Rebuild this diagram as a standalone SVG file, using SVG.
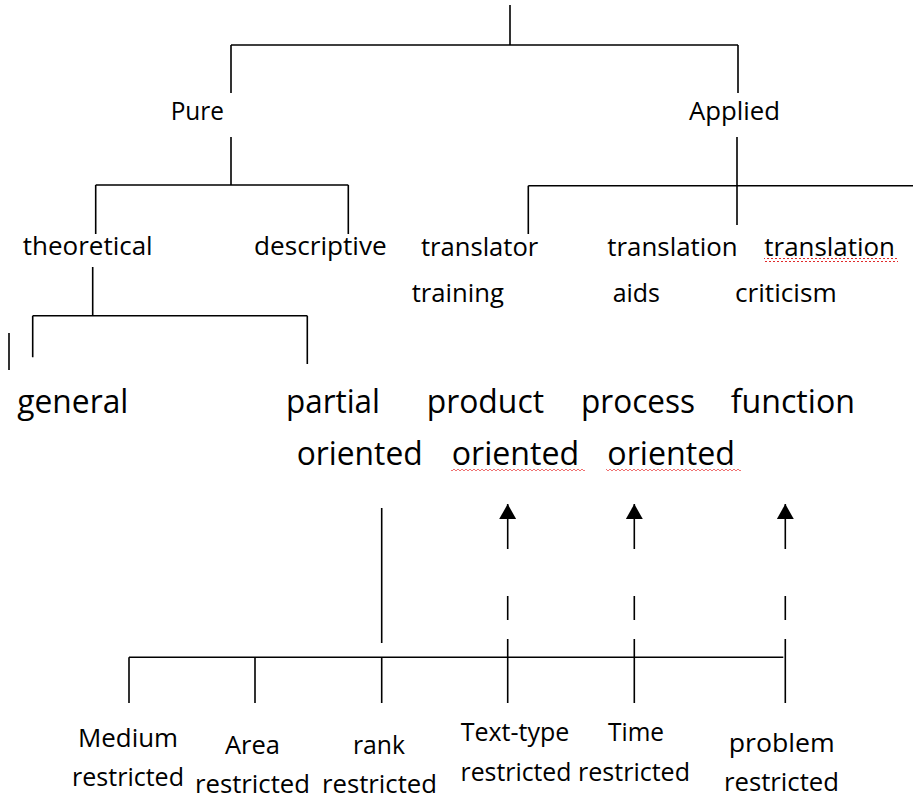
<svg xmlns="http://www.w3.org/2000/svg" width="913" height="799" viewBox="0 0 913 799">
<style>
  .ln { stroke: #000; stroke-width: 1.6; fill: none; }
  .t { font-family: "Open Sans", "Noto Sans", "Liberation Sans", sans-serif; fill: #000; }
  .m { font-size: 25px; }
  .l { font-size: 32px; }
</style>
<defs>
  <marker id="ah" markerUnits="userSpaceOnUse" markerWidth="15" markerHeight="17" viewBox="0 0 15 17" refX="15" refY="8.5" orient="auto">
    <path d="M0,0 L15,8.5 L0,17 Z" fill="#000"/>
  </marker>
  <pattern id="wavyRed" patternUnits="userSpaceOnUse" x="0" y="0" width="4" height="4">
    <path d="M-1,2 L0,3 L2,1 L4,3 L5,2" stroke="#e02b2b" stroke-width="1" fill="none"/>
  </pattern>
  <pattern id="wavyPink" patternUnits="userSpaceOnUse" x="0" y="0" width="4" height="4">
    <path d="M-1,2 L0,3 L2,1 L4,3 L5,2" stroke="#f07070" stroke-width="1" fill="none"/>
  </pattern>
</defs>
<rect width="913" height="799" fill="#fff"/>

<g id="connectors">
  <path class="ln" d="M510,5 V45 M231,45 H738 M231,45 V93 M738,45 V93"/>
  <path class="ln" d="M231,137 V185 M95.7,185 H348.3 M95.7,185 V234 M348.3,185 V234"/>
  <path class="ln" d="M737,137 V225 M528.3,185.7 H913 M528.3,185.7 V234"/>
  <path class="ln" d="M92.7,267 V315.7 M32.7,315.7 H307.3 M32.7,315.7 V357.3 M307.3,315.7 V364 M9,333 V370"/>
  <path class="ln" d="M381.7,508 V643"/>
  <path class="ln" d="M129,657.3 H783.3 M129,657.3 V703 M255,657.3 V703 M381.7,657.3 V703"/>
  <line class="ln" x1="507.7" y1="549" x2="507.7" y2="504" marker-end="url(#ah)"/>
  <line class="ln" x1="634.3" y1="549" x2="634.3" y2="504" marker-end="url(#ah)"/>
  <line class="ln" x1="785.3" y1="549" x2="785.3" y2="504" marker-end="url(#ah)"/>
  <path class="ln" d="M507.7,596 V620 M507.7,639 V703 M634.3,596 V620 M634.3,639 V703 M785.3,596 V620 M785.3,639 V703"/>
</g>

<g id="node-pure"><text class="t m" x="170.7" y="120" textLength="53.3" lengthAdjust="spacingAndGlyphs">Pure</text></g>
<g id="node-applied"><text class="t m" x="689" y="120" textLength="91" lengthAdjust="spacingAndGlyphs">Applied</text></g>
<g id="node-theoretical"><text class="t m" x="22.7" y="255" textLength="130" lengthAdjust="spacingAndGlyphs">theoretical</text></g>
<g id="node-descriptive"><text class="t m" x="254" y="255" textLength="132.7" lengthAdjust="spacingAndGlyphs">descriptive</text></g>
<g id="node-translator-training">
  <text class="t m" x="421" y="255.7" textLength="117.3" lengthAdjust="spacingAndGlyphs">translator</text>
  <text class="t m" x="411.7" y="301.7" textLength="92.3" lengthAdjust="spacingAndGlyphs">training</text>
</g>
<g id="node-translation-aids">
  <text class="t m" x="607.3" y="255.7" textLength="130.4" lengthAdjust="spacingAndGlyphs">translation</text>
  <text class="t m" x="612.7" y="301.7" textLength="47.3" lengthAdjust="spacingAndGlyphs">aids</text>
</g>
<g id="node-translation-criticism">
  <text class="t m" x="764.3" y="255.7" textLength="130.7" lengthAdjust="spacingAndGlyphs">translation</text>
  <rect x="764" y="258" width="134" height="4" fill="url(#wavyRed)"/>
  <text class="t m" x="735" y="301.7" textLength="101.7" lengthAdjust="spacingAndGlyphs">criticism</text>
</g>
<g id="node-general"><text class="t l" x="17.3" y="413" textLength="111" lengthAdjust="spacingAndGlyphs">general</text></g>
<g id="node-partial-oriented">
  <text class="t l" x="286" y="413" textLength="94" lengthAdjust="spacingAndGlyphs">partial</text>
  <text class="t l" x="296.7" y="465" textLength="126" lengthAdjust="spacingAndGlyphs">oriented</text>
</g>
<g id="node-product-oriented">
  <text class="t l" x="426.7" y="413" textLength="117.3" lengthAdjust="spacingAndGlyphs">product</text>
  <text class="t l" x="451.7" y="465" textLength="127.6" lengthAdjust="spacingAndGlyphs">oriented</text>
  <rect x="451" y="468" width="134" height="4" fill="url(#wavyPink)"/>
</g>
<g id="node-process-oriented">
  <text class="t l" x="581" y="413" textLength="114" lengthAdjust="spacingAndGlyphs">process</text>
  <text class="t l" x="607.3" y="465" textLength="127.7" lengthAdjust="spacingAndGlyphs">oriented</text>
  <rect x="606" y="468" width="135" height="4" fill="url(#wavyPink)"/>
</g>
<g id="node-function"><text class="t l" x="730.7" y="413" textLength="124.3" lengthAdjust="spacingAndGlyphs">function</text></g>

<g id="node-medium">
  <text class="t m" x="128" y="747" text-anchor="middle" textLength="100" lengthAdjust="spacingAndGlyphs">Medium</text>
  <text class="t m" x="128" y="786" text-anchor="middle" textLength="112" lengthAdjust="spacingAndGlyphs">restricted</text>
</g>
<g id="node-area">
  <text class="t m" x="252.5" y="754" text-anchor="middle" textLength="55" lengthAdjust="spacingAndGlyphs">Area</text>
  <text class="t m" x="252.5" y="793" text-anchor="middle" textLength="115" lengthAdjust="spacingAndGlyphs">restricted</text>
</g>
<g id="node-rank">
  <text class="t m" x="379" y="754" text-anchor="middle" textLength="52" lengthAdjust="spacingAndGlyphs">rank</text>
  <text class="t m" x="379.5" y="793" text-anchor="middle" textLength="115" lengthAdjust="spacingAndGlyphs">restricted</text>
</g>
<g id="node-text-type">
  <text class="t m" x="515" y="741" text-anchor="middle" textLength="108.6" lengthAdjust="spacingAndGlyphs">Text-type</text>
  <text class="t m" x="516" y="781" text-anchor="middle" textLength="111" lengthAdjust="spacingAndGlyphs">restricted</text>
</g>
<g id="node-time">
  <text class="t m" x="636" y="741" text-anchor="middle" textLength="56" lengthAdjust="spacingAndGlyphs">Time</text>
  <text class="t m" x="634" y="781" text-anchor="middle" textLength="112" lengthAdjust="spacingAndGlyphs">restricted</text>
</g>
<g id="node-problem">
  <text class="t m" x="781.7" y="752" text-anchor="middle" textLength="106" lengthAdjust="spacingAndGlyphs">problem</text>
  <text class="t m" x="781.5" y="791" text-anchor="middle" textLength="115" lengthAdjust="spacingAndGlyphs">restricted</text>
</g>
</svg>
